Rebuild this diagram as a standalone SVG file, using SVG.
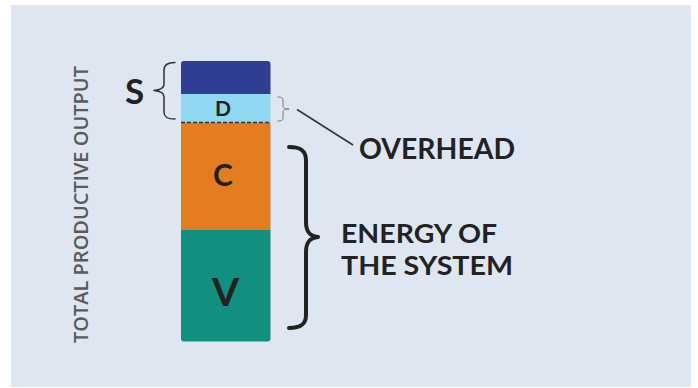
<svg xmlns="http://www.w3.org/2000/svg" width="698" height="388" viewBox="0 0 698 388">
  <style>
    .lbl { font-family: Lato, "Open Sans", "Liberation Sans", sans-serif; font-weight: 700; fill: #222222; }
    .brace { fill: none; stroke-linecap: round; stroke-linejoin: round; }
  </style>
  <rect x="0" y="0" width="698" height="388" fill="#ffffff"/>
  <rect x="11" y="5" width="680" height="382" fill="#dee7f1"/>

  <g id="axis-label">
    <text transform="translate(88,343) rotate(-90)" font-family="'Open Sans', 'Liberation Sans', sans-serif" font-weight="600" font-size="20" fill="#5a5a5a" textLength="277" lengthAdjust="spacingAndGlyphs">TOTAL PRODUCTIVE OUTPUT</text>
  </g>

  <g id="bar">
    <g id="node-S">
      <path d="M181,64 Q181,61 184,61 L267.5,61 Q270.5,61 270.5,64 L270.5,94 L181,94 Z" fill="#2f3e92"/>
    </g>
    <g id="node-D">
      <rect x="181" y="94" width="89.5" height="28.5" fill="#8fd8f1"/>
      <text class="lbl" x="223" y="116" font-size="21" text-anchor="middle">D</text>
    </g>
    <g id="node-C">
      <rect x="181" y="122.5" width="89.5" height="107.5" fill="#e47d20"/>
      <text class="lbl" x="223" y="186" font-size="30" text-anchor="middle">C</text>
    </g>
    <g id="node-V">
      <path d="M181,230 L270.5,230 L270.5,338.5 Q270.5,341.5 267.5,341.5 L184,341.5 Q181,341.5 181,338.5 Z" fill="#12907f"/>
      <text class="lbl" x="225.5" y="306" font-size="39" text-anchor="middle">V</text>
    </g>
    <line x1="181" y1="122.5" x2="270.5" y2="122.5" stroke="#333333" stroke-width="1.5" stroke-dasharray="4,2"/>
  </g>

  <g id="node-S-label">
    <text class="lbl" x="134.5" y="103.5" font-size="35" text-anchor="middle">S</text>
  </g>

  <g id="connectors">
    <path class="brace" d="M175,62.5 C167,62.5 164,65 164,70 L164,84 C164,88 160,90 154,90.5 C160,91 164,93 164,97 L164,112 C164,117 167,119 175,119" stroke="#333333" stroke-width="1.5"/>
    <path class="brace" d="M278,97 C282,97 283,98 283,101 L283,106 C283,108 285,109 289,109 C285,109 283,110 283,112 L283,118 C283,120 282,121 278,121" stroke="#777777" stroke-width="1"/>
    <line x1="297" y1="109.5" x2="353" y2="145" stroke="#333333" stroke-width="1.5"/>
    <path class="brace" d="M289,147 C300,147 306,150 306,160 L306,222 C306,231 309,236 318,237 C309,238 306,243 306,252 L306,315 C306,325 300,328 289,328" stroke="#222222" stroke-width="4"/>
  </g>

  <g id="node-overhead">
    <text class="lbl" x="359" y="158.5" font-size="28" textLength="156" lengthAdjust="spacingAndGlyphs">OVERHEAD</text>
  </g>
  <g id="node-energy">
    <text class="lbl" x="341" y="242.7" font-size="26.5" textLength="156" lengthAdjust="spacingAndGlyphs">ENERGY OF</text>
    <text class="lbl" x="341" y="275" font-size="26.5" textLength="172" lengthAdjust="spacingAndGlyphs">THE SYSTEM</text>
  </g>
</svg>
